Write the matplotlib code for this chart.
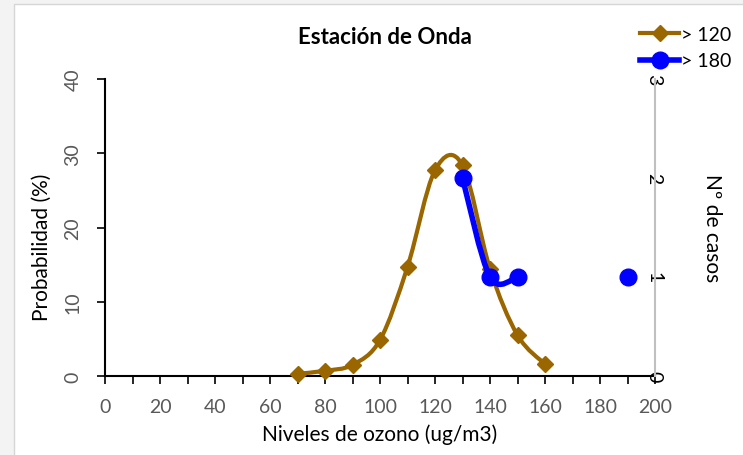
import numpy as np
import matplotlib.pyplot as plt
from matplotlib.path import Path
from matplotlib.patches import PathPatch, Rectangle
from matplotlib.lines import Line2D

plt.rcParams['font.family'] = ['Lato', 'DejaVu Sans']

# niveles de ozono (ug/m3)
niveles = [70, 80, 90, 100, 110, 120, 130, 140, 150, 160]
prob_120 = [0.3, 0.7, 1.5, 4.85, 14.7, 27.7, 28.4, 14.4, 5.5, 1.6]   # %

# nº de casos > 180 (190 queda aislado, sin unir)
niveles_180 = [130, 140, 150, 190]
casos_180 = [2, 1, 1, 1]
tramos_180 = [[0, 1, 2], [3]]

marron = '#996600'
azul = '#0000ff'


def curva_suave(x, y):
    # curva tipo Excel (Catmull-Rom pasada a Bezier cubica)
    x = np.asarray(x, float)
    y = np.asarray(y, float)
    n = len(x)
    verts = [(x[0], y[0])]
    codes = [Path.MOVETO]
    for i in range(n - 1):
        i0 = max(i - 1, 0)
        i3 = min(i + 2, n - 1)
        c1 = (x[i] + (x[i + 1] - x[i0]) / 6, y[i] + (y[i + 1] - y[i0]) / 6)
        c2 = (x[i + 1] - (x[i3] - x[i]) / 6, y[i + 1] - (y[i3] - y[i]) / 6)
        verts += [c1, c2, (x[i + 1], y[i + 1])]
        codes += [Path.CURVE4] * 3
    return Path(verts, codes)


fig = plt.figure(figsize=(7.43, 4.56), dpi=100, facecolor='#f3f3f3')
fig.patches.append(Rectangle((14 / 743, -0.01), 1.0, 1 - 5 / 456 + 0.01,
                             transform=fig.transFigure, facecolor='white',
                             edgecolor='#d6d6d6', linewidth=1, zorder=-10))

ax = fig.add_axes([105 / 743, 1 - 377 / 456, 550 / 743, 297 / 456])
ax.patch.set_alpha(0)
ax2 = ax.twinx()
ax2.patch.set_alpha(0)

# serie > 120 (eje principal, %)
ax.add_patch(PathPatch(curva_suave(niveles, prob_120), facecolor='none',
                       edgecolor=marron, linewidth=3, zorder=3))
ax.plot(niveles, prob_120, linestyle='none', marker='D', markersize=8,
        color=marron, zorder=4, clip_on=False)

# serie > 180 (eje secundario, nº de casos)
for tramo in tramos_180:
    xs = [niveles_180[i] for i in tramo]
    ys = [casos_180[i] for i in tramo]
    if len(xs) > 1:
        ax2.add_patch(PathPatch(curva_suave(xs, ys), facecolor='none',
                                edgecolor=azul, linewidth=4, zorder=3))
    ax2.plot(xs, ys, linestyle='none', marker='o', markersize=12,
             color=azul, zorder=4, clip_on=False)

ax.set_xlim(0, 200)
ax.set_ylim(0, 40)
ax2.set_ylim(0, 3)
ax.set_xticks(np.arange(0, 201, 20))
ax.set_xticks(np.arange(0, 201, 10), minor=True)
ax.set_yticks(np.arange(0, 41, 10))
ax2.set_yticks([0, 1, 2, 3])

for s in ['top', 'right']:
    ax.spines[s].set_visible(False)
for s in ['top', 'left', 'bottom']:
    ax2.spines[s].set_visible(False)
ax2.spines['right'].set_color('#c0c0c0')
ax2.spines['right'].set_linewidth(1.5)
ax.spines['left'].set_linewidth(1.5)
ax.spines['bottom'].set_linewidth(1.5)

ax.tick_params(axis='x', which='both', direction='out', length=6, width=1.2,
               pad=10, labelsize=14, labelcolor='#595959')
ax.tick_params(axis='y', direction='out', length=6, width=1.2, pad=11,
               labelsize=14, labelcolor='#595959', labelrotation=90)
for t in ax.get_yticklabels():
    t.set_va('center')
ax2.tick_params(axis='y', length=0, pad=-7, labelsize=14, labelcolor='black',
                labelrotation=-90)
for t in ax2.get_yticklabels():
    t.set_va('center')

ax.set_xlabel('Niveles de ozono (ug/m3)', fontsize=15, labelpad=6)
fig.text(42 / 743, 1 - 247 / 456, 'Probabilidad (%)', rotation=90,
         ha='center', va='center', fontsize=15)
fig.text(712 / 743, 1 - 228 / 456, 'Nº de casos', rotation=-90,
         ha='center', va='center', fontsize=15)
fig.text(385 / 743, 1 - 37 / 456, 'Estación de Onda', ha='center',
         va='center', fontsize=16, fontweight='bold')

handles = [Line2D([], [], color=marron, lw=3, marker='D', markersize=8),
           Line2D([], [], color=azul, lw=4, marker='o', markersize=12)]
fig.legend(handles, ['> 120', '> 180'], loc='upper right',
           bbox_to_anchor=(1.0, 1 - 15 / 456), frameon=False, fontsize=14,
           handlelength=2.0, handletextpad=0.1, labelspacing=0.5,
           borderaxespad=0.2)

fig.savefig('out.png', dpi=100, facecolor=fig.get_facecolor())
